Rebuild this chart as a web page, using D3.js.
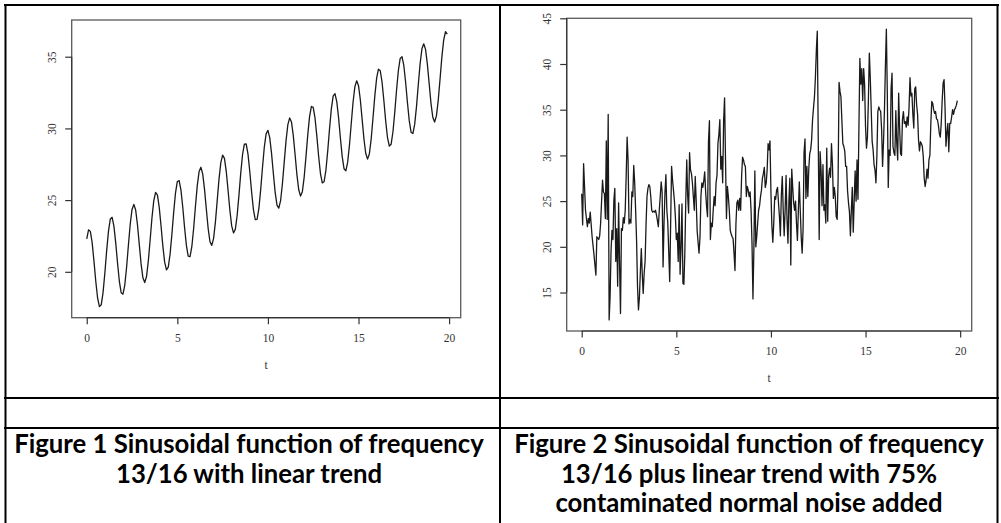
<!DOCTYPE html>
<html>
<head>
<meta charset="utf-8">
<script src="https://cdn.jsdelivr.net/npm/d3@7"></script>
<style>
  html, body { margin: 0; padding: 0; background: #fff; }
  svg { display: block; }
</style>
</head>
<body>
<script>
// ---------------- DATA ----------------
// Figure 1: sinusoid (freq 13/16) with linear trend, sampled every 0.1 from t = 0
const smoothStep = 0.1;
const smoothValues = [
  22.30, 22.93, 22.82, 22.02, 20.73, 19.32, 18.16, 17.57, 17.70, 18.55,
  19.92, 21.48, 22.84, 23.68, 23.80, 23.19, 22.02, 20.61, 19.34, 18.54,
  18.44, 19.08, 20.32, 21.86, 23.32, 24.35, 24.70, 24.31, 23.28, 21.91,
  20.55, 19.58, 19.25, 19.67, 20.76, 22.24, 23.77, 24.96, 25.54, 25.37,
  24.51, 23.21, 21.81, 20.68, 20.13, 20.33, 21.23, 22.62, 24.18, 25.51,
  26.30, 26.36, 25.70, 24.50, 23.09, 21.84, 21.09, 21.05, 21.75, 23.02,
  24.57, 26.01, 26.99, 27.29, 26.83, 25.77, 24.38, 23.04, 22.11, 21.84,
  22.32, 23.45, 24.95, 26.46, 27.61, 28.14, 27.91, 27.01, 25.69, 24.29,
  23.20, 22.71, 22.96, 23.91, 25.33, 26.88, 28.18, 28.91, 28.92, 28.21,
  26.98, 25.57, 24.34, 23.64, 23.66, 24.41, 25.72, 27.27, 28.69, 29.62,
  29.86, 29.36, 28.26, 26.86, 25.54, 24.65, 24.44, 24.97, 26.14, 27.65,
  29.15, 30.26, 30.73, 30.45, 29.50, 28.16, 26.78, 25.72, 25.28, 25.59,
  26.59, 28.03, 29.57, 30.84, 31.53, 31.47, 30.71, 29.46, 28.04, 26.85,
  26.20, 26.28, 27.08, 28.42, 29.97, 31.36, 32.25, 32.43, 31.87, 30.74,
  29.33, 28.03, 27.19, 27.04, 27.63, 28.83, 30.36, 31.84, 32.91, 33.32,
  32.98, 32.00, 30.63, 29.26, 28.25, 27.86, 28.23, 29.27, 30.74, 32.27,
  33.50, 34.13, 34.02, 33.22, 31.93, 30.52, 29.36, 28.77, 28.90, 29.75,
  31.12, 32.68, 34.04, 34.88, 35.00, 34.39, 33.22, 31.81, 30.54, 29.74,
  29.64, 30.28, 31.52, 33.06, 34.52, 35.55, 35.90, 35.51, 34.48, 33.11,
  31.75, 30.78, 30.45, 30.87, 31.96, 33.44, 34.97, 36.16, 36.74, 36.57
];

// Figure 2: same signal plus contaminated normal noise — [t, value]
const noisySeries = [
  [0.00,25.8],[0.05,22.4],[0.10,29.1],[0.15,26.6],[0.20,24.0],[0.30,22.2],[0.35,23.1],[0.40,22.6],
  [0.45,23.8],[0.55,21.1],[0.65,19.1],[0.75,16.9],[0.80,21.1],[0.90,20.8],[0.95,21.2],[1.00,22.6],
  [1.10,27.3],[1.15,26.0],[1.20,25.8],[1.25,23.1],[1.30,31.6],[1.35,23.0],[1.40,34.5],[1.45,12.0],
  [1.50,14.6],[1.55,19.5],[1.60,21.8],[1.65,20.8],[1.70,25.1],[1.75,26.4],[1.80,18.4],[1.85,22.0],
  [1.90,15.7],[1.95,24.8],[2.00,18.2],[2.05,12.7],[2.10,22.0],[2.15,21.8],[2.20,23.2],[2.25,22.6],
  [2.30,24.0],[2.35,27.7],[2.40,32.0],[2.45,29.5],[2.50,22.5],[2.55,23.0],[2.60,22.6],[2.65,26.0],
  [2.70,25.5],[2.75,28.9],[2.80,27.0],[2.85,24.0],[2.90,20.7],[2.95,15.6],[3.00,13.1],[3.05,14.5],
  [3.10,17.3],[3.15,19.8],[3.20,17.0],[3.25,14.9],[3.30,17.1],[3.35,18.4],[3.40,22.4],[3.45,25.5],
  [3.50,26.4],[3.55,26.8],[3.60,26.6],[3.65,25.5],[3.70,24.0],[3.75,23.8],[3.80,23.9],[3.85,23.8],
  [3.90,24.0],[3.95,23.5],[4.00,22.9],[4.05,22.2],[4.10,24.0],[4.15,25.5],[4.20,27.1],[4.25,26.0],
  [4.30,17.8],[4.35,22.6],[4.40,25.9],[4.45,27.9],[4.50,24.0],[4.55,22.6],[4.65,16.2],[4.75,28.8],
  [4.80,27.3],[4.85,26.2],[4.90,25.0],[4.95,23.3],[5.00,20.8],[5.05,21.5],[5.10,18.4],[5.15,24.6],
  [5.20,17.0],[5.25,20.0],[5.30,24.7],[5.35,16.0],[5.40,15.9],[5.45,19.3],[5.50,25.0],[5.55,29.5],
  [5.60,25.6],[5.65,23.7],[5.70,30.3],[5.75,28.4],[5.80,28.0],[5.85,27.0],[5.90,25.5],[5.95,24.0],
  [6.00,27.7],[6.05,25.1],[6.10,21.8],[6.15,20.5],[6.20,19.3],[6.25,21.0],[6.30,25.5],[6.35,27.0],
  [6.40,26.5],[6.45,27.2],[6.50,28.2],[6.55,26.0],[6.60,24.4],[6.65,23.3],[6.70,31.5],[6.75,33.8],
  [6.80,20.8],[6.85,22.6],[6.90,22.2],[6.95,24.0],[7.00,25.5],[7.05,24.5],[7.10,27.0],[7.15,27.8],
  [7.20,31.3],[7.25,32.3],[7.30,33.9],[7.35,28.5],[7.40,29.9],[7.45,27.0],[7.50,33.8],[7.55,36.3],
  [7.60,29.5],[7.65,23.1],[7.70,26.6],[7.75,25.5],[7.80,24.0],[7.85,21.8],[7.90,21.4],[7.95,21.1],
  [8.00,20.9],[8.05,19.3],[8.10,17.4],[8.15,22.5],[8.20,24.8],[8.25,25.1],[8.30,24.0],[8.35,25.3],
  [8.40,24.0],[8.45,27.7],[8.50,29.8],[8.55,29.5],[8.60,29.0],[8.65,28.8],[8.70,25.5],[8.75,26.6],
  [8.80,26.2],[8.85,25.5],[8.90,26.0],[8.95,24.0],[9.00,20.4],[9.05,14.3],[9.10,19.9],[9.15,28.3],
  [9.20,20.0],[9.25,21.1],[9.30,22.6],[9.35,24.0],[9.40,24.5],[9.45,25.5],[9.50,26.2],[9.55,27.5],
  [9.60,28.0],[9.65,28.7],[9.70,26.5],[9.75,27.0],[9.80,28.4],[9.85,31.3],[9.90,30.6],[9.95,31.6],
  [10.00,26.0],[10.05,22.3],[10.10,20.5],[10.15,22.6],[10.20,25.5],[10.25,25.2],[10.30,26.2],[10.35,26.5],
  [10.40,24.8],[10.45,23.3],[10.50,21.2],[10.55,25.6],[10.60,27.7],[10.65,24.0],[10.70,21.2],[10.75,24.0],
  [10.80,27.8],[10.85,23.0],[10.90,20.4],[10.95,25.0],[11.00,27.5],[11.05,18.0],[11.10,28.5],[11.15,26.5],
  [11.20,24.8],[11.25,24.0],[11.30,25.0],[11.35,22.6],[11.40,20.7],[11.45,24.0],[11.50,27.1],[11.55,24.0],
  [11.60,21.1],[11.65,19.3],[11.70,22.0],[11.75,30.3],[11.80,31.8],[11.85,25.3],[11.90,28.8],[11.95,25.5],
  [12.00,28.5],[12.05,30.2],[12.10,30.6],[12.15,31.7],[12.20,33.9],[12.25,35.2],[12.30,36.4],[12.35,38.5],
  [12.40,41.5],[12.45,43.6],[12.50,32.0],[12.55,20.8],[12.60,30.4],[12.65,28.4],[12.70,24.5],[12.75,29.0],
  [12.80,24.0],[12.85,24.6],[12.90,22.6],[12.95,30.8],[13.00,22.8],[13.05,27.7],[13.10,28.6],[13.15,27.6],
  [13.20,31.3],[13.25,29.0],[13.30,25.3],[13.35,26.5],[13.40,25.5],[13.45,23.3],[13.50,23.0],[13.55,27.3],
  [13.60,38.0],[13.65,37.0],[13.70,36.4],[13.75,33.8],[13.80,31.3],[13.85,31.0],[13.90,30.5],[13.95,28.8],
  [14.00,28.8],[14.05,26.1],[14.10,24.8],[14.15,23.8],[14.20,21.2],[14.25,24.0],[14.30,26.5],[14.35,21.6],
  [14.40,25.0],[14.45,28.3],[14.50,25.0],[14.55,29.5],[14.60,25.2],[14.65,33.0],[14.70,40.6],[14.75,37.8],
  [14.80,39.5],[14.85,36.0],[14.90,39.5],[14.95,37.8],[15.00,33.1],[15.05,30.8],[15.10,32.0],[15.15,36.0],
  [15.20,41.2],[15.25,38.5],[15.30,35.0],[15.35,31.5],[15.40,30.6],[15.45,29.0],[15.50,28.4],[15.55,27.0],
  [15.60,30.0],[15.65,34.8],[15.70,35.3],[15.75,35.0],[15.80,34.8],[15.85,32.8],[15.90,28.8],[15.95,31.5],
  [16.00,35.0],[16.05,39.8],[16.10,43.8],[16.15,36.8],[16.20,26.5],[16.25,30.6],[16.30,30.0],[16.35,37.3],
  [16.40,39.0],[16.45,31.0],[16.50,30.3],[16.55,30.0],[16.60,34.9],[16.65,31.3],[16.70,29.5],[16.75,36.8],
  [16.80,33.0],[16.85,30.2],[16.90,30.0],[16.95,33.9],[17.00,34.8],[17.05,33.5],[17.10,33.7],[17.15,33.1],
  [17.20,34.2],[17.25,33.3],[17.30,35.3],[17.35,38.5],[17.40,36.5],[17.45,36.8],[17.50,34.5],[17.55,33.0],
  [17.60,37.3],[17.65,37.5],[17.70,35.5],[17.75,34.5],[17.80,31.7],[17.85,30.5],[17.90,31.5],[17.95,31.3],
  [18.00,31.0],[18.05,29.9],[18.10,27.5],[18.15,26.6],[18.20,27.3],[18.25,28.5],[18.30,27.5],[18.35,29.5],
  [18.40,30.0],[18.45,33.5],[18.50,35.9],[18.55,35.7],[18.60,35.0],[18.65,34.6],[18.70,34.8],[18.75,34.0],
  [18.80,33.9],[18.85,33.3],[18.90,32.4],[18.95,32.0],[19.00,33.5],[19.05,36.0],[19.10,37.9],[19.15,38.3],
  [19.20,35.3],[19.25,31.0],[19.30,32.5],[19.35,33.5],[19.40,30.4],[19.45,33.5],[19.50,33.5],[19.55,34.2],
  [19.60,35.0],[19.65,34.5],[19.70,35.0],[19.75,35.2],[19.80,35.5],[19.85,36.0]
];

const xTicks = [0, 5, 10, 15, 20];
const yTicks1 = [20, 25, 30, 35];
const yTicks2 = [15, 20, 25, 30, 35, 40, 45];
const xLabel = "t";
const caption1 = ["Figure 1 Sinusoidal function of frequency", "13/16 with linear trend"];
const caption2 = ["Figure 2 Sinusoidal function of frequency", "13/16 plus linear trend with 75%", "contaminated normal noise added"];

// ---------------- LAYOUT ----------------
const W = 1001, H = 523;
const svg = d3.select("body").append("svg").attr("width", W).attr("height", H);
svg.append("rect").attr("width", W).attr("height", H).attr("fill", "#fff");

const panels = [
  { box: [71.7, 460.7, 20, 317.7], xDom: [-0.83, 20.64], yDom: [16.8, 37.56], yTicks: yTicks1,
    data: smoothValues.map((v, i) => [i * smoothStep, v]) },
  { box: [566.7, 971.7, 18.3, 331], xDom: [-0.793, 20.61], yDom: [10.79, 45], yTicks: yTicks2,
    data: noisySeries }
];

const tickFont = "'Liberation Serif', 'DejaVu Serif', serif";

panels.forEach(p => {
  const [x0, x1, y0, y1] = p.box;
  const x = d3.scaleLinear().domain(p.xDom).range([x0, x1]);
  const y = d3.scaleLinear().domain(p.yDom).range([y1, y0]);
  const g = svg.append("g");

  g.append("path")
    .datum(p.data)
    .attr("fill", "none")
    .attr("stroke", "#1a1a1a")
    .attr("stroke-width", 1.3)
    .attr("stroke-linejoin", "round")
    .attr("d", d3.line().x(d => x(d[0])).y(d => y(d[1])));

  g.append("rect")
    .attr("x", x0).attr("y", y0).attr("width", x1 - x0).attr("height", y1 - y0)
    .attr("fill", "none").attr("stroke", "#5a5a5a").attr("stroke-width", 1.3);

  const xa = g.append("g").attr("transform", `translate(0,${y1})`)
    .call(d3.axisBottom(x).tickValues(xTicks).tickSize(6.5).tickSizeOuter(0).tickFormat(d3.format("d")));
  xa.select(".domain").attr("stroke", "#333").attr("stroke-width", 1.2)
    .attr("d", `M${x(xTicks[0])},0H${x(xTicks[xTicks.length - 1])}`);
  xa.selectAll(".tick line").attr("stroke", "#333").attr("stroke-width", 1.2);
  xa.selectAll(".tick text")
    .attr("y", 20).attr("dy", "0.35em")
    .attr("fill", "#333").style("font-family", tickFont).style("font-size", "11.5px");

  const ya = g.append("g").attr("transform", `translate(${x0},0)`)
    .call(d3.axisLeft(y).tickValues(p.yTicks).tickSize(6.5).tickSizeOuter(0).tickFormat(d3.format("d")));
  ya.select(".domain").attr("stroke", "#333").attr("stroke-width", 1.2)
    .attr("d", `M0,${y(p.yTicks[0])}V${y(p.yTicks[p.yTicks.length - 1])}`);
  ya.selectAll(".tick line").attr("stroke", "#333").attr("stroke-width", 1.2);
  ya.selectAll(".tick text")
    .attr("x", 0).attr("y", -20).attr("dy", "0.35em")
    .attr("transform", "rotate(-90)")
    .attr("text-anchor", "middle")
    .attr("fill", "#333").style("font-family", tickFont).style("font-size", "11.5px");

  g.append("text")
    .attr("x", (x0 + x1) / 2).attr("y", y1 + 47).attr("dy", "0.35em")
    .attr("text-anchor", "middle")
    .attr("fill", "#333").style("font-family", tickFont).style("font-size", "11.5px")
    .text(xLabel);
});

// ---------------- TABLE LINES ----------------
const lines = svg.append("g").attr("stroke", "#000").attr("stroke-width", 2);
lines.append("line").attr("x1", 4).attr("x2", 999).attr("y1", 5).attr("y2", 5);
lines.append("line").attr("x1", 5.5).attr("x2", 5.5).attr("y1", 4).attr("y2", H);
lines.append("line").attr("x1", 500).attr("x2", 500).attr("y1", 4).attr("y2", H);
lines.append("line").attr("x1", 997.5).attr("x2", 997.5).attr("y1", 4).attr("y2", H);
lines.append("line").attr("x1", 4).attr("x2", 999).attr("y1", 398).attr("y2", 398);
lines.append("line").attr("x1", 4).attr("x2", 999).attr("y1", 428).attr("y2", 428);

// ---------------- CAPTIONS ----------------
const capFont = "Lato, 'Open Sans', sans-serif";
const baselines = [453, 482.5, 512];
function drawCaption(linesArr, cx) {
  const t = svg.append("g");
  linesArr.forEach((s, i) => {
    t.append("text")
      .attr("x", cx).attr("y", baselines[i])
      .attr("text-anchor", "middle")
      .attr("fill", "#000")
      .style("font-family", capFont).style("font-weight", "bold").style("font-size", "18px")
      .text(s);
  });
  return t;
}
const c1 = drawCaption(caption1, 249);
const c2 = drawCaption(caption2, 749);
const w0 = c1.select("text").node().getComputedTextLength();
const fs = 18 * 470 / w0;
c1.selectAll("text").style("font-size", fs + "px");
c2.selectAll("text").style("font-size", fs + "px");
</script>
</body>
</html>
